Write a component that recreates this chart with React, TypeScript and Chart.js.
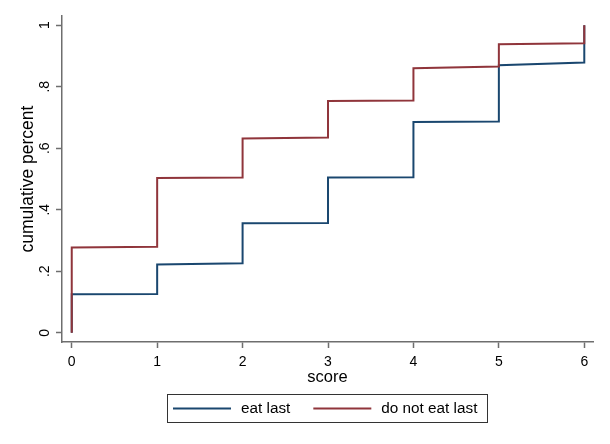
import { useEffect, useRef } from 'react';
import { Chart, registerables, type ChartConfiguration, type Plugin } from 'chart.js';

Chart.register(...registerables);

// ── Design tokens ──────────────────────────────────────────────────────────────

const C = {
  navy:   '#1a476f',
  maroon: '#90353b',
  axis:   '#6e6e6e',
  text:   '#000000',
  frame:  '#333333',
} as const;

const FONT = '"Liberation Sans", Arial, sans-serif';

// ── Data (step vertices of the cumulative distribution) ───────────────────────

const SCORE_X = [0, 0, 1, 1, 2, 2, 3, 3, 4, 4, 5, 5, 6, 6];

const EAT_LAST = [0, 0.125, 0.126, 0.222, 0.226, 0.356, 0.357, 0.505, 0.506, 0.685, 0.687, 0.870, 0.879, 1.0];

const NOT_EAT_LAST = [0, 0.277, 0.280, 0.503, 0.505, 0.632, 0.635, 0.754, 0.755, 0.860, 0.866, 0.938, 0.941, 1.0];

const SERIES_LABELS = ['eat last', 'do not eat last'];

const X_TICKS = [0, 1, 2, 3, 4, 5, 6];
const Y_TICKS = [0, 0.2, 0.4, 0.6, 0.8, 1];
const Y_TICK_LABELS = ['0', '.2', '.4', '.6', '.8', '1'];

// ── Boxed legend under the plot (Stata style) ─────────────────────────────────

const boxedLegend: Plugin<'scatter'> = {
  id: 'boxedLegend',
  afterDraw(chart) {
    const { ctx, chartArea } = chart;
    const lineLen = 58, gapText = 10, gapItem = 23, padL = 6, padR = 10, h = 28;

    ctx.save();
    ctx.font = `15.3px ${FONT}`;
    const items = chart.data.datasets.map((ds) => ({
      label: String(ds.label),
      color: String(ds.borderColor),
      w: ctx.measureText(String(ds.label)).width,
    }));
    const inner = items.reduce((s, it, i) => s + lineLen + gapText + it.w + (i ? gapItem : 0), 0);
    const total = padL + inner + padR;
    const left = Math.round((chartArea.left + chartArea.right) / 2 - total / 2);
    const top = chartArea.bottom + 52;

    ctx.strokeStyle = C.frame;
    ctx.lineWidth = 1;
    ctx.strokeRect(left + 0.5, top + 0.5, Math.round(total), h);

    const cy = top + h / 2 + 0.5;
    let x = left + padL;
    items.forEach((it, i) => {
      if (i) x += gapItem;
      ctx.strokeStyle = it.color;
      ctx.lineWidth = 2;
      ctx.beginPath();
      ctx.moveTo(x, cy);
      ctx.lineTo(x + lineLen, cy);
      ctx.stroke();
      x += lineLen + gapText;
      ctx.fillStyle = C.text;
      ctx.textBaseline = 'middle';
      ctx.textAlign = 'left';
      ctx.fillText(it.label, x, cy);
      x += it.w;
    });
    ctx.restore();
  },
};

// ── Chart ──────────────────────────────────────────────────────────────────────

function CumulativeChart() {
  const canvasRef = useRef<HTMLCanvasElement>(null);
  const chartRef  = useRef<Chart | null>(null);

  useEffect(() => {
    const canvas = canvasRef.current;
    if (!canvas) return;

    const toPoints = (ys: number[]) => ys.map((y, i) => ({ x: SCORE_X[i], y }));

    const axisGrid = {
      drawOnChartArea: false,
      drawTicks:       true,
      tickLength:      6,
      tickColor:       C.axis,
      tickWidth:       1.5,
    };

    const config: ChartConfiguration<'scatter'> = {
      type: 'scatter',
      data: {
        datasets: [
          {
            label:       SERIES_LABELS[0],
            data:        toPoints(EAT_LAST),
            borderColor: C.navy,
            borderWidth: 2,
            showLine:    true,
            pointRadius: 0,
            order:       1,
          },
          {
            label:       SERIES_LABELS[1],
            data:        toPoints(NOT_EAT_LAST),
            borderColor: C.maroon,
            borderWidth: 2,
            showLine:    true,
            pointRadius: 0,
            order:       0,
          },
        ],
      },
      options: {
        animation:  false,
        responsive: false,
        layout:     { padding: { top: 16, right: 17, bottom: 0, left: 0 } },
        plugins: {
          legend:  { display: false },
          tooltip: { enabled: false },
        },
        scales: {
          x: {
            type: 'linear',
            min:  -0.114,
            max:  6.102,
            afterBuildTicks: (s) => { s.ticks = X_TICKS.map((v) => ({ value: v })); },
            afterFit:        (s) => { s.height = 102; },
            grid:   axisGrid,
            border: { color: C.axis, width: 1.5 },
            ticks: {
              color:       C.text,
              font:        { family: FONT, size: 14 },
              padding:     6,
              maxRotation: 0,
              autoSkip:    false,
              callback:    (v) => String(v),
            },
            title: {
              display: true,
              text:    'score',
              color:   C.text,
              font:    { family: FONT, size: 16.5 },
              padding: { top: 0, bottom: 57 },
            },
          },
          y: {
            min: -0.03,
            max: 1.03,
            afterBuildTicks: (s) => { s.ticks = Y_TICKS.map((v) => ({ value: v })); },
            afterFit:        (s) => { s.width = 62; },
            grid:   axisGrid,
            border: { color: C.axis, width: 1.5 },
            ticks: {
              color:       C.text,
              font:        { family: FONT, size: 14 },
              padding:     5,
              minRotation: 90,
              maxRotation: 90,
              crossAlign:  'center',
              autoSkip:    false,
              callback:    (_v, i) => Y_TICK_LABELS[i],
            },
            title: {
              display: true,
              text:    'cumulative percent',
              color:   C.text,
              font:    { family: FONT, size: 17.5 },
              padding: { top: 18, bottom: 0 },
            },
          },
        },
      },
      plugins: [boxedLegend],
    };

    if (chartRef.current) chartRef.current.destroy();
    chartRef.current = new Chart(canvas, config);

    return () => { chartRef.current?.destroy(); chartRef.current = null; };
  }, []);

  return <canvas ref={canvasRef} width={610} height={444} style={{ display: 'block' }} />;
}

// ── Main Component ─────────────────────────────────────────────────────────────

export default function App() {
  useEffect(() => {
    document.body.style.margin = '0';
  }, []);

  return (
    <div style={{ width: 610, height: 444, background: '#ffffff' }}>
      <CumulativeChart />
    </div>
  );
}
